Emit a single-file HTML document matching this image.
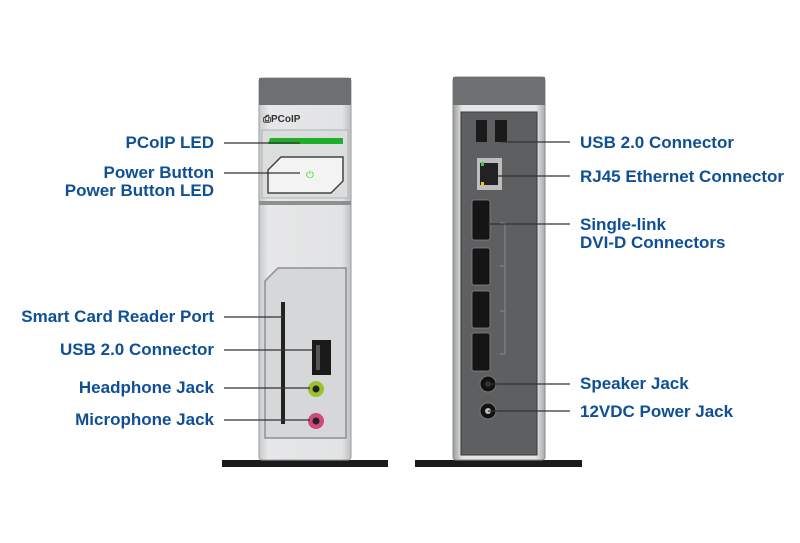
<!DOCTYPE html>
<html><head><style>
body{margin:0;background:#fff;width:800px;height:543px;overflow:hidden;position:relative;font-family:"Liberation Sans",sans-serif}
.l{position:absolute;color:#0f4f95;font-weight:bold;font-size:17px;line-height:18px;white-space:nowrap}
.r{text-align:right;right:586px}
</style></head><body>
<svg width="800" height="543" style="position:absolute;left:0;top:0">
<defs>
<linearGradient id="g1" x1="0" x2="1"><stop offset="0" stop-color="#c9cacb"/><stop offset="0.1" stop-color="#e6e7e8"/><stop offset="0.9" stop-color="#e2e3e4"/><stop offset="1" stop-color="#bfc0c1"/></linearGradient>
<linearGradient id="g2" x1="0" x2="1"><stop offset="0" stop-color="#9a9b9c"/><stop offset="0.1" stop-color="#e4e5e6"/><stop offset="0.9" stop-color="#e4e5e6"/><stop offset="1" stop-color="#a8a9aa"/></linearGradient>
</defs>
<rect x="222" y="460" width="166" height="7" fill="#1a1a1a"/>
<rect x="259" y="78" width="92" height="382" rx="3" fill="url(#g1)" stroke="#9a9b9c"/>
<rect x="259" y="78" width="92" height="27" fill="#6e6f70"/>
<text x="263" y="122" font-size="10" font-weight="bold" fill="#333">⎙PCoIP</text>
<rect x="262" y="130" width="86" height="68" fill="#dcdddd" stroke="#b0b1b2"/>
<polygon points="270,138 343,138 343,144 268,144" fill="#1fae2b"/>
<polygon points="281,157 343,157 343,181 331,193 268,193 268,170" fill="#f3f3f3" stroke="#444" stroke-width="1.5"/>
<text x="306" y="178" font-size="10" fill="#2bd62b">⏻</text>
<rect x="259" y="201" width="92" height="4" fill="#8e8f90"/>
<polygon points="278,268 346,268 346,438 265,438 265,281" fill="#d6d7d8" stroke="#8e8f90" stroke-width="1.5"/>
<rect x="281" y="302" width="4" height="122" fill="#222"/>
<rect x="312" y="340" width="19" height="35" fill="#1a1a1a"/>
<rect x="316" y="345" width="4" height="25" fill="#555"/>
<circle cx="316" cy="389" r="8" fill="#9ac22d"/><circle cx="316" cy="389" r="3.5" fill="#222"/>
<circle cx="316" cy="421" r="8" fill="#d2477d"/><circle cx="316" cy="421" r="3.5" fill="#222"/>
<rect x="415" y="460" width="167" height="7" fill="#1a1a1a"/>
<rect x="453" y="77" width="92" height="383" rx="3" fill="url(#g2)" stroke="#8a8b8c"/>
<rect x="453" y="77" width="92" height="28" fill="#6e6f70"/>
<rect x="461" y="112" width="76" height="343" fill="#5e5f61" stroke="#3a3a3a"/>
<rect x="476" y="120" width="11" height="22" fill="#1a1a1a"/>
<rect x="495" y="120" width="12" height="22" fill="#1a1a1a"/>
<rect x="477" y="158" width="25" height="32" fill="#bdbdbd"/>
<rect x="480" y="163" width="18" height="22" fill="#222"/>
<rect x="481" y="162" width="3" height="4" fill="#4c4"/><rect x="481" y="182" width="3" height="4" fill="#dc3"/>
<g fill="#151515" stroke="#888" stroke-width="0.8">
<rect x="472" y="200" width="18" height="40" rx="2"/>
<rect x="472" y="248" width="18" height="37" rx="2"/>
<rect x="472" y="291" width="18" height="37" rx="2"/>
<rect x="472" y="333" width="18" height="38" rx="2"/>
</g>
<path d="M505 223 V354 M500 223 H505 M500 266 H505 M500 311 H505 M500 354 H505" stroke="#888" fill="none"/>
<circle cx="488" cy="384" r="8" fill="#111" stroke="#777"/><circle cx="488" cy="384" r="3" fill="#333"/>
<circle cx="488" cy="411" r="8" fill="#111" stroke="#777"/><circle cx="488" cy="411" r="3" fill="#bbb"/>
<g stroke="#333" stroke-width="1.3">
<line x1="224" y1="143" x2="300" y2="143"/>
<line x1="224" y1="173" x2="300" y2="173"/>
<line x1="224" y1="317" x2="283" y2="317"/>
<line x1="224" y1="350" x2="312" y2="350"/>
<line x1="224" y1="388" x2="310" y2="388"/>
<line x1="224" y1="420" x2="310" y2="420"/>
<line x1="502" y1="142" x2="570" y2="142"/>
<line x1="498" y1="176" x2="570" y2="176"/>
<line x1="488" y1="224" x2="570" y2="224"/>
<line x1="488" y1="384" x2="570" y2="384"/>
<line x1="488" y1="411" x2="570" y2="411"/>
</g>
</svg>
<div class="l r" style="top:134px">PCoIP LED</div>
<div class="l r" style="top:164px">Power Button<br>Power Button LED</div>
<div class="l r" style="top:308px">Smart Card Reader Port</div>
<div class="l r" style="top:341px">USB 2.0 Connector</div>
<div class="l r" style="top:379px">Headphone Jack</div>
<div class="l r" style="top:411px">Microphone Jack</div>
<div class="l" style="left:580px;top:134px">USB 2.0 Connector</div>
<div class="l" style="left:580px;top:168px">RJ45 Ethernet Connector</div>
<div class="l" style="left:580px;top:216px">Single-link<br>DVI-D Connectors</div>
<div class="l" style="left:580px;top:375px">Speaker Jack</div>
<div class="l" style="left:580px;top:403px">12VDC Power Jack</div>
</body></html>
